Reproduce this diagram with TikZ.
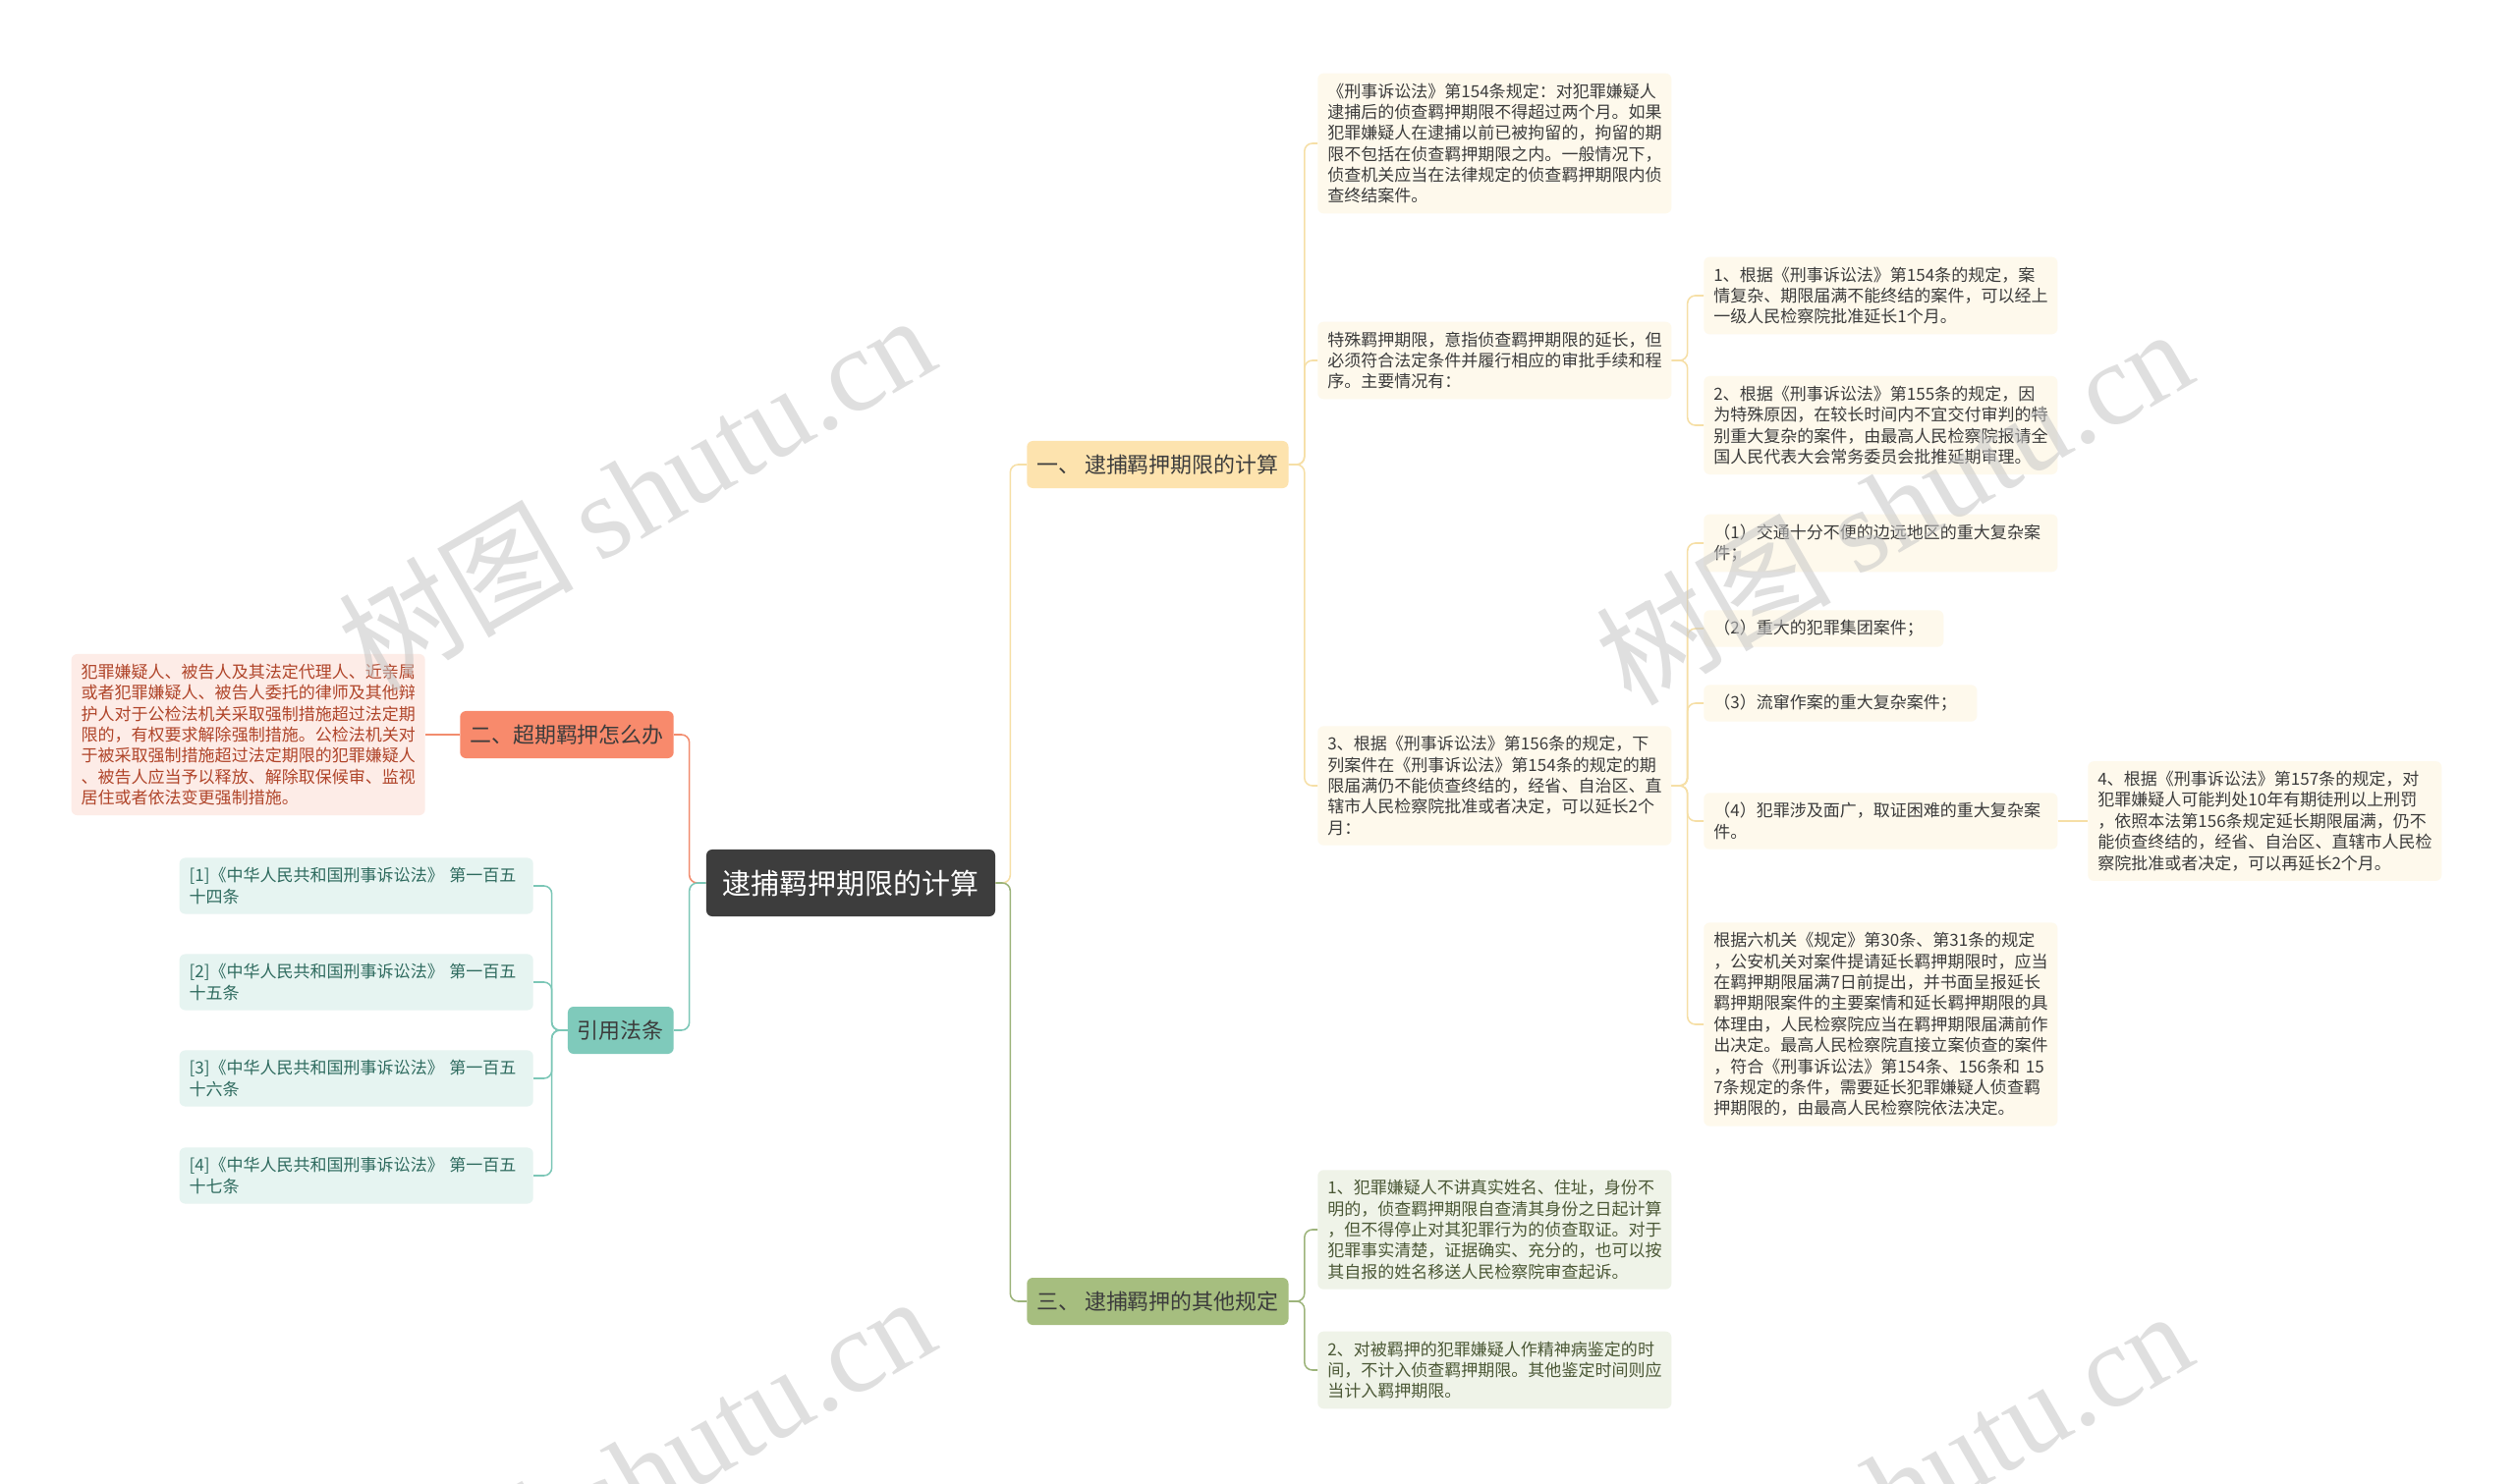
\documentclass[tikz,border=0pt]{standalone}
\usepackage{fontspec}
\setmainfont{Noto Sans CJK SC}
\newfontfamily\wmlatin{Liberation Serif}
\definecolor{inktext}{HTML}{3C3C3C}
\definecolor{rootfill}{HTML}{3D3D3D}
\definecolor{ylwfill}{HTML}{FDE3AE}
\definecolor{ylwleaf}{HTML}{FEF9EC}
\definecolor{ylwline}{HTML}{F6DFA6}
\definecolor{redfill}{HTML}{F88A6C}
\definecolor{redleaf}{HTML}{FDECE7}
\definecolor{redline}{HTML}{F28C6E}
\definecolor{redtext}{HTML}{B0452A}
\definecolor{tealfill}{HTML}{7FCABB}
\definecolor{tealleaf}{HTML}{E6F4F1}
\definecolor{tealline}{HTML}{7CC7B7}
\definecolor{tealtext}{HTML}{2F6B5F}
\definecolor{grnfill}{HTML}{A6BE7F}
\definecolor{grnleaf}{HTML}{EFF3E8}
\definecolor{grnline}{HTML}{9DB47B}
\definecolor{grntext}{HTML}{4B5836}

\begin{document}
\begin{tikzpicture}[x=0.025cm,y=-0.025cm,
    every node/.style={text=inktext},
    topic/.style={rounded corners=0.15cm,minimum height=1.2cm,inner xsep=0.25cm,font=\fontsize{15.6}{18}\selectfont},
    sub/.style={rounded corners=0.15cm,inner sep=0.25cm,text width=8.5cm,align=left,font=\fontsize{12.1}{15.2}\selectfont},
    link/.style={line width=1.1pt,rounded corners=0.2cm}]
  \clip (0,0) rectangle (2560,1511);
  \fill[white] (0,0) rectangle (2560,1511);
  % centre and main branches
  \node[fill=rootfill,text=white,rounded corners=0.15cm,minimum width=7.35cm,minimum height=1.7cm,font=\fontsize{20.6}{24}\selectfont] (root) at (866,899) {逮捕羁押期限的计算};
  \node[topic,fill=ylwfill,anchor=west] (calc) at (1045,473) {一、 逮捕羁押期限的计算};
  \node[topic,fill=redfill,anchor=east] (over) at (686,748) {二、超期羁押怎么办};
  \node[topic,fill=tealfill,anchor=east] (cite) at (686,1049) {引用法条};
  \node[topic,fill=grnfill,anchor=west] (other) at (1045,1325) {三、 逮捕羁押的其他规定};
  % branch one
  \node[sub,fill=ylwleaf,anchor=west] (rule) at (1341,146) {《刑事诉讼法》第154条规定：对犯罪嫌疑人\\逮捕后的侦查羁押期限不得超过两个月。如果\\犯罪嫌疑人在逮捕以前已被拘留的，拘留的期\\限不包括在侦查羁押期限之内。一般情况下，\\侦查机关应当在法律规定的侦查羁押期限内侦\\查终结案件。};
  \node[sub,fill=ylwleaf,anchor=west] (special) at (1341,367) {特殊羁押期限，意指侦查羁押期限的延长，但\\必须符合法定条件并履行相应的审批手续和程\\序。主要情况有：};
  \node[sub,fill=ylwleaf,anchor=west] (ext) at (1341,800) {3、根据《刑事诉讼法》第156条的规定，下\\列案件在《刑事诉讼法》第154条的规定的期\\限届满仍不能侦查终结的，经省、自治区、直\\辖市人民检察院批准或者决定，可以延长2个\\月：};
  \node[sub,fill=ylwleaf,anchor=west] (one) at (1734,301) {1、根据《刑事诉讼法》第154条的规定，案\\情复杂、期限届满不能终结的案件，可以经上\\一级人民检察院批准延长1个月。};
  \node[sub,fill=ylwleaf,anchor=west] (two) at (1734,433) {2、根据《刑事诉讼法》第155条的规定，因\\为特殊原因，在较长时间内不宜交付审判的特\\别重大复杂的案件，由最高人民检察院报请全\\国人民代表大会常务委员会批推延期审理。};
  \node[sub,fill=ylwleaf,anchor=west] (case1) at (1734,553) {（1）交通十分不便的边远地区的重大复杂案\\件；};
  \node[sub,fill=ylwleaf,anchor=west,text width=5.6cm] (case2) at (1734,640) {（2）重大的犯罪集团案件；};
  \node[sub,fill=ylwleaf,anchor=west,text width=6.45cm] (case3) at (1734,716) {（3）流窜作案的重大复杂案件；};
  \node[sub,fill=ylwleaf,anchor=west] (case4) at (1734,836) {（4）犯罪涉及面广，取证困难的重大复杂案\\件。};
  \node[sub,fill=ylwleaf,anchor=west] (six) at (1734,1043) {根据六机关《规定》第30条、第31条的规定\\，公安机关对案件提请延长羁押期限时，应当\\在羁押期限届满7日前提出，并书面呈报延长\\羁押期限案件的主要案情和延长羁押期限的具\\体理由，人民检察院应当在羁押期限届满前作\\出决定。最高人民检察院直接立案侦查的案件\\，符合《刑事诉讼法》第154条、156条和~15\\7条规定的条件，需要延长犯罪嫌疑人侦查羁\\押期限的，由最高人民检察院依法决定。};
  \node[sub,fill=ylwleaf,anchor=west] (four) at (2125,836) {4、根据《刑事诉讼法》第157条的规定，对\\犯罪嫌疑人可能判处10年有期徒刑以上刑罚\\，依照本法第156条规定延长期限届满，仍不\\能侦查终结的，经省、自治区、直辖市人民检\\察院批准或者决定，可以再延长2个月。};
  % branch two
  \node[sub,fill=redleaf,text=redtext,anchor=east] (right) at (433,748) {犯罪嫌疑人、被告人及其法定代理人、近亲属\\或者犯罪嫌疑人、被告人委托的律师及其他辩\\护人对于公检法机关采取强制措施超过法定期\\限的，有权要求解除强制措施。公检法机关对\\于被采取强制措施超过法定期限的犯罪嫌疑人\\、被告人应当予以释放、解除取保候审、监视\\居住或者依法变更强制措施。};
  % cited articles
  \foreach \i/\y/\t in {1/902/四,2/1000/五,3/1098/六,4/1197/七}
    \node[sub,fill=tealleaf,text=tealtext,anchor=east] (art\i) at (543,\y) {[\i]《中华人民共和国刑事诉讼法》~第一百五\\十\t 条};
  % branch three
  \node[sub,fill=grnleaf,text=grntext,anchor=west] (name) at (1341,1252) {1、犯罪嫌疑人不讲真实姓名、住址，身份不\\明的，侦查羁押期限自查清其身份之日起计算\\，但不得停止对其犯罪行为的侦查取证。对于\\犯罪事实清楚，证据确实、充分的，也可以按\\其自报的姓名移送人民检察院审查起诉。};
  \node[sub,fill=grnleaf,text=grntext,anchor=west] (mental) at (1341,1395) {2、对被羁押的犯罪嫌疑人作精神病鉴定的时\\间，不计入侦查羁押期限。其他鉴定时间则应\\当计入羁押期限。};
  % connectors
  \draw[link,ylwline] (root.east) -- ++(15,0) |- (calc.west);
  \draw[link,grnline] (root.east) -- ++(15,0) |- (other.west);
  \draw[link,redline] (root.west) -- ++(-17,0) |- (over.east);
  \draw[link,tealline] (root.west) -- ++(-17,0) |- (cite.east);
  \foreach \n in {rule,special,ext} \draw[link,ylwline] (calc.east) -- ++(16,0) |- (\n.west);
  \foreach \n in {one,two} \draw[link,ylwline] (special.east) -- ++(16,0) |- (\n.west);
  \foreach \n in {case1,case2,case3,case4,six} \draw[link,ylwline] (ext.east) -- ++(16,0) |- (\n.west);
  \draw[link,ylwline] (case4.east) -- (four.west);
  \draw[link,redline] (over.west) -- (right.east);
  \foreach \i in {1,...,4} \draw[link,tealline] (cite.west) -- ++(-16,0) |- (art\i.east);
  \foreach \n in {name,mental} \draw[link,grnline] (other.east) -- ++(16,0) |- (\n.west);
  % watermark
  \foreach \wx/\wy [count=\k] in {647/500,1927/514,647/1499,1927/1514}
    \node[rotate=30,text=gray!45,text opacity=0.55,font=\fontsize{85}{90}\selectfont] (mark\k) at (\wx,\wy) {树图 {\wmlatin shutu.cn}};
\end{tikzpicture}
\end{document}
